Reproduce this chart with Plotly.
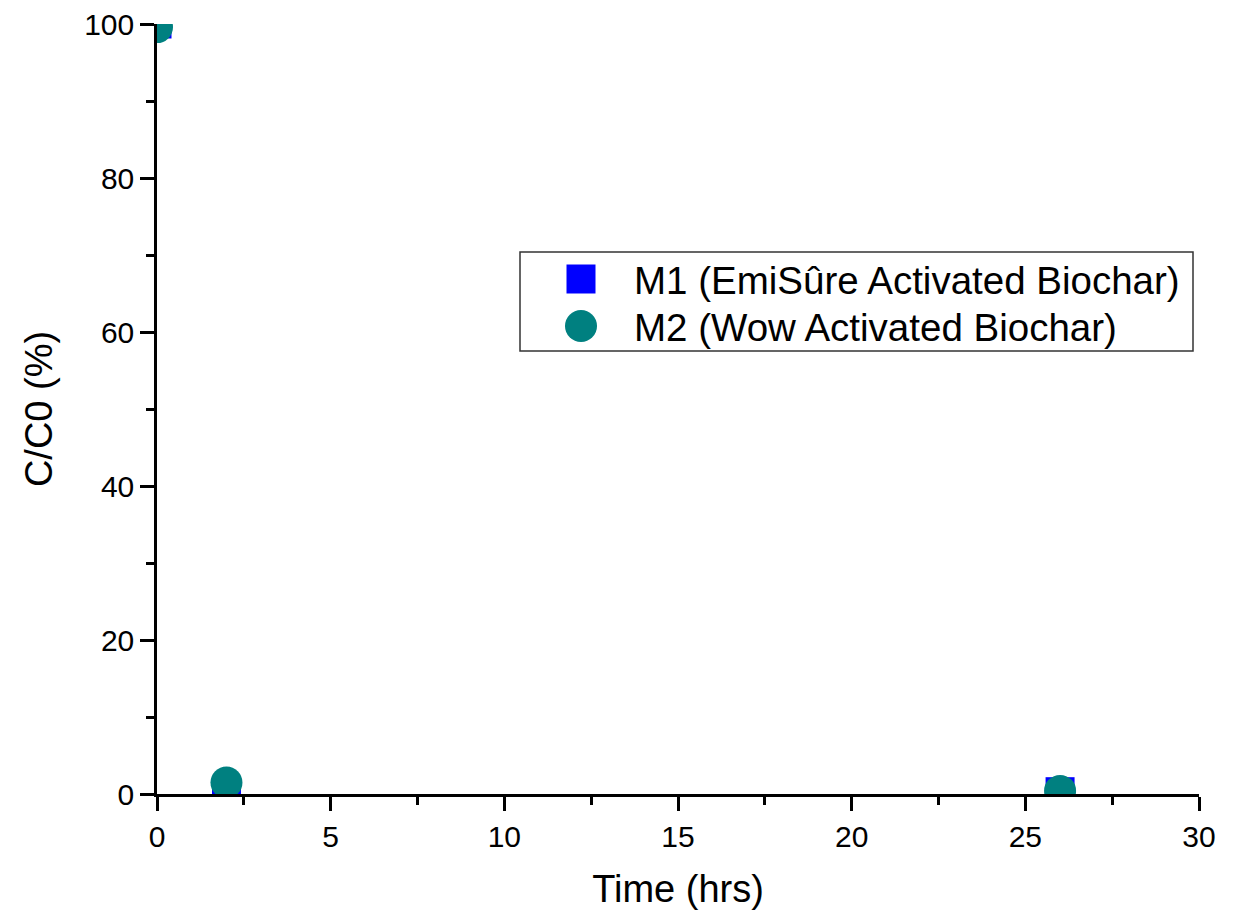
import plotly.graph_objects as go

time_hrs = [0, 2, 26]
m1_vals = [100, 0.4, 0.3]
m2_vals = [99.6, 1.5, 0.4]
series_names = ["M1 (EmiSûre Activated Biochar)", "M2 (Wow Activated Biochar)"]
colors = ["#0000FF", "#008080"]
x_ticks = [0, 5, 10, 15, 20, 25, 30]
y_ticks = [0, 20, 40, 60, 80, 100]

FONT = "Liberation Sans, Arial, sans-serif"

fig = go.Figure()
fig.add_trace(go.Scatter(x=time_hrs, y=m1_vals, mode="markers", name=series_names[0],
                         marker=dict(symbol="square", size=29, color=colors[0]),
                         showlegend=False))
fig.add_trace(go.Scatter(x=time_hrs, y=m2_vals, mode="markers", name=series_names[1],
                         marker=dict(symbol="circle", size=32, color=colors[1]),
                         showlegend=False))

axis_common = dict(showgrid=False, zeroline=False, showline=True, linecolor="black",
                   linewidth=2.5, ticks="outside", ticklen=14, tickwidth=2.5,
                   tickcolor="black", automargin=False,
                   tickfont=dict(family=FONT, size=30, color="black"))

fig.update_xaxes(range=[0, 30], tickvals=x_ticks,
                 title=dict(text="Time (hrs)", font=dict(family=FONT, size=38, color="black"), standoff=24),
                 minor=dict(dtick=2.5, ticks="outside", ticklen=8, tickwidth=2.5, tickcolor="black"),
                 **axis_common)
fig.update_yaxes(range=[0, 100], tickvals=y_ticks,
                 title=dict(text="C/C0 (%)", font=dict(family=FONT, size=38, color="black"), standoff=20),
                 minor=dict(dtick=10, ticks="outside", ticklen=8, tickwidth=2.5, tickcolor="black"),
                 **axis_common)

# custom legend (large symbols)
def px_to_paper_x(px):
    return (px - 157) / 1042

def py_to_paper_y(py):
    return (794 - py) / 770

shapes = [
    dict(type="rect", xref="paper", yref="paper",
         x0=px_to_paper_x(520), x1=px_to_paper_x(1193),
         y0=py_to_paper_y(351), y1=py_to_paper_y(252),
         line=dict(color="#333333", width=1.5), fillcolor="white", layer="above"),
    dict(type="rect", xref="paper", yref="paper", xsizemode="pixel", ysizemode="pixel",
         xanchor=px_to_paper_x(581), yanchor=py_to_paper_y(279),
         x0=-14.5, x1=14.5, y0=-14.5, y1=14.5,
         fillcolor=colors[0], line=dict(width=0), layer="above"),
    dict(type="circle", xref="paper", yref="paper", xsizemode="pixel", ysizemode="pixel",
         xanchor=px_to_paper_x(581), yanchor=py_to_paper_y(326),
         x0=-16, x1=16, y0=-16, y1=16,
         fillcolor=colors[1], line=dict(width=0), layer="above"),
]
annotations = [
    dict(xref="paper", yref="paper", x=px_to_paper_x(632), y=py_to_paper_y(280),
         xanchor="left", yanchor="middle", showarrow=False, text=series_names[0],
         font=dict(family=FONT, size=38.5, color="black")),
    dict(xref="paper", yref="paper", x=px_to_paper_x(632), y=py_to_paper_y(327),
         xanchor="left", yanchor="middle", showarrow=False, text=series_names[1],
         font=dict(family=FONT, size=38.5, color="black")),
]

fig.update_layout(width=1240, height=913, plot_bgcolor="white", paper_bgcolor="white",
                  margin=dict(l=157, r=41, t=24, b=119),
                  shapes=shapes, annotations=annotations, showlegend=False)

fig.write_html("out.html")
